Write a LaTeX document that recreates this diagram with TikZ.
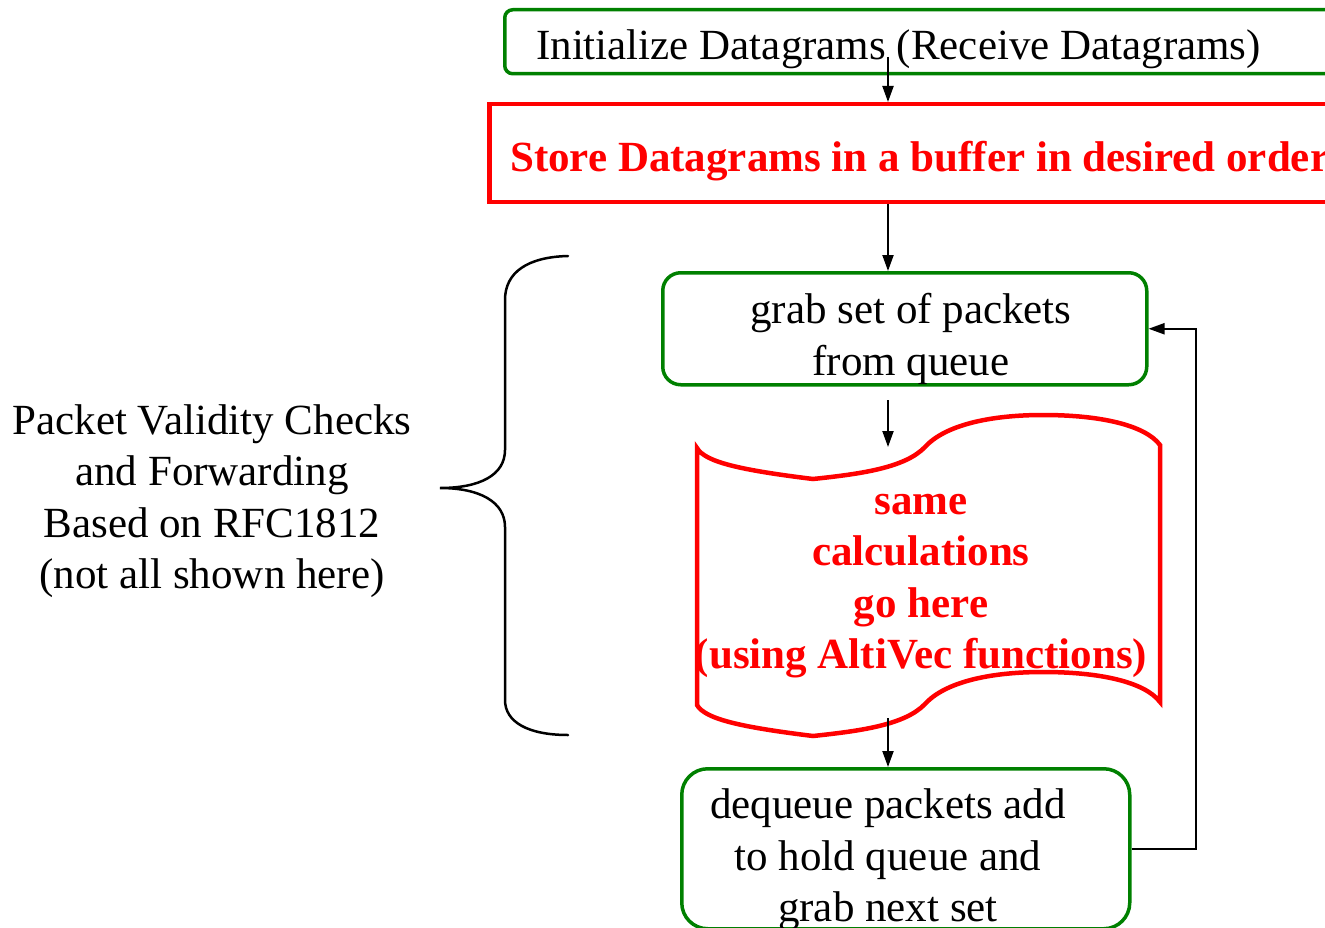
\documentclass[tikz,border=0pt]{standalone}
\usepackage{fontspec}
\setmainfont{Liberation Serif}
\usetikzlibrary{arrows.meta}
\definecolor{flowgreen}{RGB}{0,128,0}
\definecolor{flowred}{RGB}{255,0,0}
\begin{document}
\begin{tikzpicture}[x=1pt,y=-1pt,
  txt/.style={font=\fontsize{43}{51.5}\selectfont, align=center, inner sep=0pt},
  boldtxt/.style={txt, font=\fontsize{43}{51.5}\selectfont\bfseries, text=flowred},
  greenbox/.style={draw=flowgreen, line width=3.5pt, rounded corners=#1, inner sep=0pt, anchor=north west},
  redbox/.style={draw=flowred, line width=4.5pt, inner sep=0pt, anchor=north west},
  arr/.style={draw=black, line width=2pt, -{Triangle[length=16pt,width=11pt]}}]

\clip (0,0) rectangle (1325,928);

% process boxes
\node[greenbox=8, minimum width=850pt, minimum height=64pt] (init) at (503,8) {};
\node[txt, anchor=base west] (inittext) at (536,60) {Initialize Datagrams (Receive Datagrams)};

\node[redbox, minimum width=870pt, minimum height=98pt] (store) at (487,102) {};
\node[boldtxt, anchor=base west] (storetext) at (510,172) {Store Datagrams in a buffer in desired order};

\node[greenbox=18, minimum width=484pt, minimum height=112pt] (grab) at (661,271) {};
\node[txt] (grabtext) at (911,339) {grab set of packets\\from queue};

\node[greenbox=26, minimum width=448pt, minimum height=160pt] (deq) at (680,767) {};
\node[txt] (deqtext) at (888,860) {dequeue packets add\\to hold queue and\\grab next set};

% punched-tape shaped block
\draw[flowred, line width=4.5pt, miter limit=10]
  (697,705) -- (697,448)
  .. controls (705,462) and (740,470) .. (813,479)
  .. controls (860,474) and (905,468) .. (925,447)
  .. controls (945,425) and (990,415) .. (1043,415)
  .. controls (1100,415) and (1145,425) .. (1160,445)
  -- (1160,702)
  .. controls (1145,682) and (1100,672) .. (1043,672)
  .. controls (990,672) and (945,682) .. (925,704)
  .. controls (905,725) and (860,731) .. (813,736)
  .. controls (740,727) and (705,719) .. (697,705) -- cycle;
\node[boldtxt] (calc) at (921,586) {same\\calculations\\go here\\(using AltiVec functions)};

% connectors
\coordinate (a1) at (888,57);
\draw[arr] (a1) -- (a1 |- store.north);
\draw[arr] (store.south -| a1) -- (grab.north -| a1);
\coordinate (a3) at (888,400);
\coordinate (a3end) at (888,447);
\draw[arr] (a3) -- (a3end);
\coordinate (a4) at (888,718);
\draw[arr] (a4) -- (a4 |- deq.north);
\draw[arr] (deq.east) -- ++(64,0) |- (grab.east);

% brace and side label
\draw[line width=2.5pt, line cap=round]
  (568,256) .. controls (528,257) and (505,272) .. (505,300)
  -- (505,450)
  .. controls (505,475) and (480,488) .. (440,488)
  .. controls (480,488) and (505,502) .. (505,527)
  -- (505,700)
  .. controls (505,722) and (528,735) .. (568,735);
\node[txt] (sidetext) at (212,501) {Packet Validity Checks\\and Forwarding\\Based on RFC1812\\(not all shown here)};
\end{tikzpicture}
\end{document}
